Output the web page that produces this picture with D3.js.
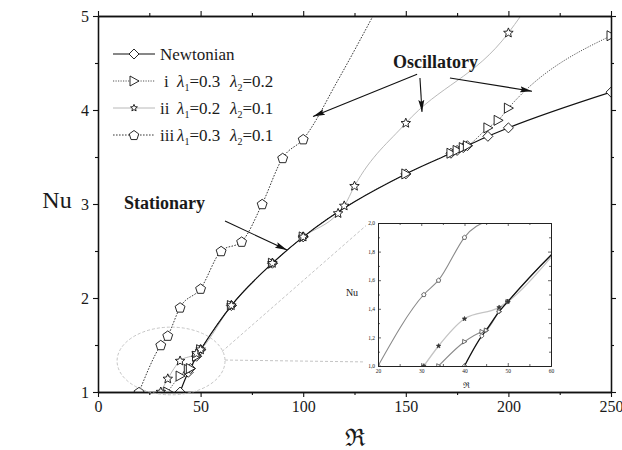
<!DOCTYPE html>
<html>
<head>
<meta charset="utf-8">
<script src="https://cdn.jsdelivr.net/npm/d3@7"></script>
<style>
  body { margin: 0; background: #fff; }
  svg { display: block; }
  text { font-family: "Liberation Serif", "DejaVu Serif", serif; fill: #1a1a1a; }
</style>
</head>
<body>
<svg id="chart" width="622" height="450"></svg>
<script>
// ---- Nusselt number vs. Rayleigh number ----
const newtR   = [40, 44, 45, 48, 50, 65, 85, 100, 150, 172, 175, 178, 180, 190, 200, 250];
const newtNu  = [1.00, 1.21, 1.25, 1.38, 1.45, 1.92, 2.37, 2.65, 3.32, 3.54, 3.57, 3.60, 3.62, 3.72, 3.81, 4.19];

const caseIR  = [34, 40, 44, 45, 48, 50, 65, 85, 100, 150, 172, 175, 178, 180, 190, 195, 200, 250];
const caseINu = [1.00, 1.17, 1.24, 1.25, 1.38, 1.45, 1.92, 2.37, 2.65, 3.32, 3.54, 3.57, 3.60, 3.62, 3.81, 3.89, 4.02, 4.79];

const caseIIR  = [30.6, 34, 40, 48, 50, 65, 85, 100, 117, 120, 125, 150, 200];
const caseIINu = [1.00, 1.14, 1.33, 1.41, 1.45, 1.92, 2.37, 2.65, 2.90, 2.98, 3.19, 3.86, 4.82];

const caseIIIR  = [20, 30.6, 34, 40, 50, 60, 70, 80, 90, 100];
const caseIIINu = [1.00, 1.50, 1.60, 1.90, 2.10, 2.50, 2.60, 3.00, 3.49, 3.69];

// continuation of the fitted curves past the last computed point (line only)
const caseIITailR = [206],       caseIITailNu = [5.0];
const caseIIITailR = [117, 134], caseIIITailNu = [4.32, 5.0];

const xMajor = [0, 50, 100, 150, 200, 250];
const xMinor = [25, 75, 125, 175, 225];
const yMajor = [1, 2, 3, 4, 5];
const yMinor = [1.5, 2.5, 3.5, 4.5];

const insetXTicks = [20, 30, 40, 50, 60];
const insetXMinor = [25, 35, 45, 55];
const insetYTicks = [1.0, 1.2, 1.4, 1.6, 1.8, 2.0];
const insetYMinor = [1.1, 1.3, 1.5, 1.7, 1.9];

const legendRows = [
  { key: "newt", roman: "",    l1: "",    l2: "" },
  { key: "i",    roman: "i",   l1: "0.3", l2: "0.2" },
  { key: "ii",   roman: "ii",  l1: "0.2", l2: "0.1" },
  { key: "iii",  roman: "iii", l1: "0.3", l2: "0.1" }
];

// ---- helpers ----
const zip = (a, b) => a.map((v, i) => [v, b[i]]);

function shape(type, s) {
  if (type === "diamond") return `M0,${-s}L${s},0L0,${s}L${-s},0Z`;
  if (type === "tri") return `M${s},0L${-s * 0.8},${-s}L${-s * 0.8},${s}Z`;
  if (type === "star") {
    let p = [];
    for (let k = 0; k < 10; k++) {
      const r = k % 2 ? s * 0.45 : s;
      const a = -Math.PI / 2 + k * Math.PI / 5;
      p.push([r * Math.cos(a), r * Math.sin(a)]);
    }
    return "M" + p.map(q => q[0].toFixed(2) + "," + q[1].toFixed(2)).join("L") + "Z";
  }
  if (type === "pent") {
    let p = [];
    for (let k = 0; k < 5; k++) {
      const a = -Math.PI / 2 + k * 2 * Math.PI / 5;
      p.push([s * Math.cos(a), s * Math.sin(a) + s * 0.1]);
    }
    return "M" + p.map(q => q[0].toFixed(2) + "," + q[1].toFixed(2)).join("L") + "Z";
  }
}

const svg = d3.select("#chart");
const defs = svg.append("defs");

// ---- main scales ----
const x = d3.scaleLinear().domain([0, 250]).range([98, 611]);
const y = d3.scaleLinear().domain([1, 5]).range([392, 16]);

defs.append("clipPath").attr("id", "plotClip")
  .append("rect").attr("x", 98).attr("y", 16).attr("width", 513).attr("height", 376);

defs.append("marker").attr("id", "arrow")
  .attr("viewBox", "0 -4 12 8").attr("refX", 12).attr("refY", 0)
  .attr("markerWidth", 12).attr("markerHeight", 8)
  .attr("markerUnits", "userSpaceOnUse").attr("orient", "auto")
  .append("path").attr("d", "M0,-3L12,0L0,3L2,0Z").attr("fill", "#111");

// ---- series styles ----
const series = {
  newt: { R: newtR, Nu: newtNu, marker: "diamond", size: 5, stroke: "#111", width: 1.2, dash: null },
  i:    { R: caseIR, Nu: caseINu, marker: "tri", size: 5, stroke: "#555", width: 1, dash: "1.2,1.3" },
  ii:   { R: caseIIR, Nu: caseIINu, marker: "star", size: 5, stroke: "#b0b0b0", width: 0.9, dash: null },
  iii:  { R: caseIIIR, Nu: caseIIINu, marker: "pent", size: 5.2, stroke: "#222", width: 0.9, dash: "1.6,1.4" }
};
const tails = {
  ii:  zip(caseIITailR, caseIITailNu),
  iii: zip(caseIIITailR, caseIIITailNu)
};

// ---- main plot: lines ----
const plot = svg.append("g").attr("clip-path", "url(#plotClip)");
const line = d3.line().x(d => x(d[0])).y(d => y(d[1])).curve(d3.curveMonotoneX);

["ii", "i", "iii", "newt"].forEach(k => {
  const s = series[k];
  const pts = zip(s.R, s.Nu).concat(tails[k] || []);
  plot.append("path").attr("d", line(pts))
    .attr("fill", "none").attr("stroke", s.stroke)
    .attr("stroke-width", s.width).attr("stroke-dasharray", s.dash);
});

// ---- main plot: markers ----
["newt", "i", "ii", "iii"].forEach(k => {
  const s = series[k];
  plot.selectAll(null).data(zip(s.R, s.Nu)).enter().append("path")
    .attr("d", shape(s.marker, s.size))
    .attr("transform", d => `translate(${x(d[0])},${y(d[1])})`)
    .attr("fill", "#fff").attr("stroke", "#111").attr("stroke-width", 0.9);
});

// ---- axes (frame with outward ticks on all four sides) ----
function styleAxis(g) {
  g.selectAll("path.domain").attr("stroke", "#111").attr("stroke-width", 1.3);
  g.selectAll(".tick line").attr("stroke", "#111").attr("stroke-width", 1.1);
  g.selectAll(".tick text").attr("font-size", 16).attr("fill", "#1a1a1a")
    .attr("font-family", "Liberation Serif, DejaVu Serif, serif");
}
svg.append("g").attr("transform", "translate(0,392)")
  .call(d3.axisBottom(x).tickValues(xMajor).tickSize(5).tickSizeOuter(0).tickPadding(4)).call(styleAxis);
svg.append("g").attr("transform", "translate(0,392)")
  .call(d3.axisBottom(x).tickValues(xMinor).tickSize(3).tickSizeOuter(0).tickFormat("")).call(styleAxis);
svg.append("g").attr("transform", "translate(0,16)")
  .call(d3.axisTop(x).tickValues(xMajor).tickSize(5).tickSizeOuter(0).tickFormat("")).call(styleAxis);
svg.append("g").attr("transform", "translate(0,16)")
  .call(d3.axisTop(x).tickValues(xMinor).tickSize(3).tickSizeOuter(0).tickFormat("")).call(styleAxis);
svg.append("g").attr("transform", "translate(98,0)")
  .call(d3.axisLeft(y).tickValues(yMajor).tickSize(5).tickSizeOuter(0).tickPadding(4).tickFormat(d3.format("d"))).call(styleAxis);
svg.append("g").attr("transform", "translate(98,0)")
  .call(d3.axisLeft(y).tickValues(yMinor).tickSize(3).tickSizeOuter(0).tickFormat("")).call(styleAxis);
svg.append("g").attr("transform", "translate(611,0)")
  .call(d3.axisRight(y).tickValues(yMajor).tickSize(5).tickSizeOuter(0).tickFormat("")).call(styleAxis);
svg.append("g").attr("transform", "translate(611,0)")
  .call(d3.axisRight(y).tickValues(yMinor).tickSize(3).tickSizeOuter(0).tickFormat("")).call(styleAxis);

// axis titles
svg.append("text").attr("x", 57).attr("y", 208).attr("text-anchor", "middle")
  .attr("font-size", 24).text("Nu");
svg.append("text").attr("x", 355).attr("y", 446).attr("text-anchor", "middle")
  .attr("font-size", 24).attr("font-family", "DejaVu Serif, serif").text("\u211C");

// ---- legend ----
const legY = [54, 81, 108, 135];
const legend = svg.append("g");
legendRows.forEach((row, i) => {
  const s = series[row.key];
  const yy = legY[i];
  legend.append("line").attr("x1", 113).attr("x2", 155).attr("y1", yy).attr("y2", yy)
    .attr("stroke", s.stroke).attr("stroke-width", s.width).attr("stroke-dasharray", s.dash);
  const ms = row.key === "ii" ? 3.6 : 5;
  legend.append("path").attr("d", shape(s.marker, ms))
    .attr("transform", `translate(134,${yy})`)
    .attr("fill", "#fff").attr("stroke", "#111").attr("stroke-width", 0.9);
  if (row.key === "newt") {
    legend.append("text").attr("x", 160).attr("y", yy + 6).attr("font-size", 17).text("Newtonian");
  } else {
    legend.append("text").attr("x", row.roman === "i" ? 164 : 160).attr("y", yy + 6)
      .attr("font-size", 17).text(row.roman);
    const t1 = legend.append("text").attr("x", 177).attr("y", yy + 6).attr("font-size", 17);
    t1.append("tspan").attr("font-style", "italic").text("\u03BB");
    t1.append("tspan").attr("font-size", 10).attr("dy", 4).text("1");
    t1.append("tspan").attr("dy", -4).text("=" + row.l1);
    const t2 = legend.append("text").attr("x", 230).attr("y", yy + 6).attr("font-size", 17);
    t2.append("tspan").attr("font-style", "italic").text("\u03BB");
    t2.append("tspan").attr("font-size", 10).attr("dy", 4).text("2");
    t2.append("tspan").attr("dy", -4).text("=" + row.l2);
  }
});

// ---- regime annotations ----
svg.append("text").attr("x", 393).attr("y", 68).attr("font-size", 18)
  .attr("font-weight", "bold").text("Oscillatory");
svg.append("text").attr("x", 124).attr("y", 209).attr("font-size", 18)
  .attr("font-weight", "bold").text("Stationary");

const arrows = [
  [[155.5, 4.38], [104.8, 3.93]],
  [[156.9, 4.34], [157.9, 3.98]],
  [[171.5, 4.34], [211.5, 4.20]],
  [[61.9, 2.82], [92.1, 2.51]]
];
arrows.forEach(a => {
  svg.append("line")
    .attr("x1", x(a[0][0])).attr("y1", y(a[0][1]))
    .attr("x2", x(a[1][0])).attr("y2", y(a[1][1]))
    .attr("stroke", "#111").attr("stroke-width", 1.1)
    .attr("marker-end", "url(#arrow)");
});

// ---- zoom ellipse and connectors ----
const zoomEllipse = { R: 35.6, Nu: 1.33, rR: 26.3, rNu: 0.36 };
svg.append("ellipse")
  .attr("cx", x(zoomEllipse.R)).attr("cy", y(zoomEllipse.Nu))
  .attr("rx", x(zoomEllipse.rR) - x(0)).attr("ry", y(1) - y(1 + zoomEllipse.rNu))
  .attr("fill", "none").attr("stroke", "#bdbdbd").attr("stroke-width", 0.9)
  .attr("stroke-dasharray", "3,2");
const connectors = [
  [[60.4, 1.43], [130.6, 2.77]],
  [[61.9, 1.34], [130.1, 1.32]]
];
connectors.forEach(c => {
  svg.append("line")
    .attr("x1", x(c[0][0])).attr("y1", y(c[0][1]))
    .attr("x2", x(c[1][0])).attr("y2", y(c[1][1]))
    .attr("stroke", "#bdbdbd").attr("stroke-width", 0.9).attr("stroke-dasharray", "3,2");
});

// ---- inset: close-up of the onset region ----
const ix = d3.scaleLinear().domain([20, 60]).range([378, 551]);
const iy = d3.scaleLinear().domain([1, 2]).range([366, 223]);
defs.append("clipPath").attr("id", "insetClip")
  .append("rect").attr("x", 378).attr("y", 223).attr("width", 173).attr("height", 143);

const inset = svg.append("g");
inset.append("rect").attr("x", 378).attr("y", 223).attr("width", 173).attr("height", 143)
  .attr("fill", "#fff");

const iline = d3.line().x(d => ix(d[0])).y(d => iy(d[1])).curve(d3.curveMonotoneX);
const insetStyle = {
  iii:  { stroke: "#8a8a8a", width: 1.1 },
  ii:   { stroke: "#c4c4c4", width: 1.3 },
  i:    { stroke: "#8a8a8a", width: 1.1 },
  newt: { stroke: "#111", width: 1.3 }
};
const iplot = inset.append("g").attr("clip-path", "url(#insetClip)");
["iii", "ii", "i", "newt"].forEach(k => {
  const s = series[k];
  iplot.append("path").attr("d", iline(zip(s.R, s.Nu)))
    .attr("fill", "none").attr("stroke", insetStyle[k].stroke)
    .attr("stroke-width", insetStyle[k].width);
});
["newt", "i", "iii"].forEach(k => {
  const s = series[k];
  iplot.selectAll(null).data(zip(s.R, s.Nu).filter(d => d[0] <= 60 && d[1] <= 2)).enter()
    .append("path").attr("d", shape(s.marker, 2.3))
    .attr("transform", d => `translate(${ix(d[0])},${iy(d[1])})`)
    .attr("fill", "#fff").attr("stroke", "#333").attr("stroke-width", 0.7);
});
iplot.selectAll(null).data(zip(caseIIR, caseIINu).filter(d => d[0] <= 60 && d[1] <= 2)).enter()
  .append("path").attr("d", shape("star", 2.4))
  .attr("transform", d => `translate(${ix(d[0])},${iy(d[1])})`)
  .attr("fill", "#333").attr("stroke", "#333").attr("stroke-width", 0.6);

function styleInset(g) {
  g.selectAll("path.domain").attr("stroke", "#222").attr("stroke-width", 1);
  g.selectAll(".tick line").attr("stroke", "#222").attr("stroke-width", 0.7);
  g.selectAll(".tick text").attr("font-size", 5.5).attr("fill", "#444")
    .attr("font-family", "DejaVu Sans, sans-serif");
}
const commaFmt = d => d3.format(".1f")(d).replace(".", ",");
inset.append("g").attr("transform", "translate(0,366)")
  .call(d3.axisBottom(ix).tickValues(insetXTicks).tickSize(-3).tickSizeOuter(0).tickPadding(3)).call(styleInset);
inset.append("g").attr("transform", "translate(0,366)")
  .call(d3.axisBottom(ix).tickValues(insetXMinor).tickSize(-2).tickSizeOuter(0).tickFormat("")).call(styleInset);
inset.append("g").attr("transform", "translate(0,223)")
  .call(d3.axisTop(ix).tickValues(insetXTicks).tickSize(-3).tickSizeOuter(0).tickFormat("")).call(styleInset);
inset.append("g").attr("transform", "translate(0,223)")
  .call(d3.axisTop(ix).tickValues(insetXMinor).tickSize(-2).tickSizeOuter(0).tickFormat("")).call(styleInset);
inset.append("g").attr("transform", "translate(378,0)")
  .call(d3.axisLeft(iy).tickValues(insetYTicks).tickSize(-3).tickSizeOuter(0).tickPadding(3).tickFormat(commaFmt)).call(styleInset);
inset.append("g").attr("transform", "translate(378,0)")
  .call(d3.axisLeft(iy).tickValues(insetYMinor).tickSize(-2).tickSizeOuter(0).tickFormat("")).call(styleInset);
inset.append("g").attr("transform", "translate(551,0)")
  .call(d3.axisRight(iy).tickValues(insetYTicks).tickSize(-3).tickSizeOuter(0).tickFormat("")).call(styleInset);
inset.append("g").attr("transform", "translate(551,0)")
  .call(d3.axisRight(iy).tickValues(insetYMinor).tickSize(-2).tickSizeOuter(0).tickFormat("")).call(styleInset);

inset.append("text").attr("x", 352).attr("y", 296).attr("text-anchor", "middle")
  .attr("font-size", 10).attr("font-family", "DejaVu Sans, sans-serif").attr("fill", "#333").text("Nu");
inset.append("text").attr("x", 466).attr("y", 388).attr("text-anchor", "middle")
  .attr("font-size", 8).attr("font-family", "DejaVu Serif, serif").attr("fill", "#333").text("\u211C");
</script>
</body>
</html>
